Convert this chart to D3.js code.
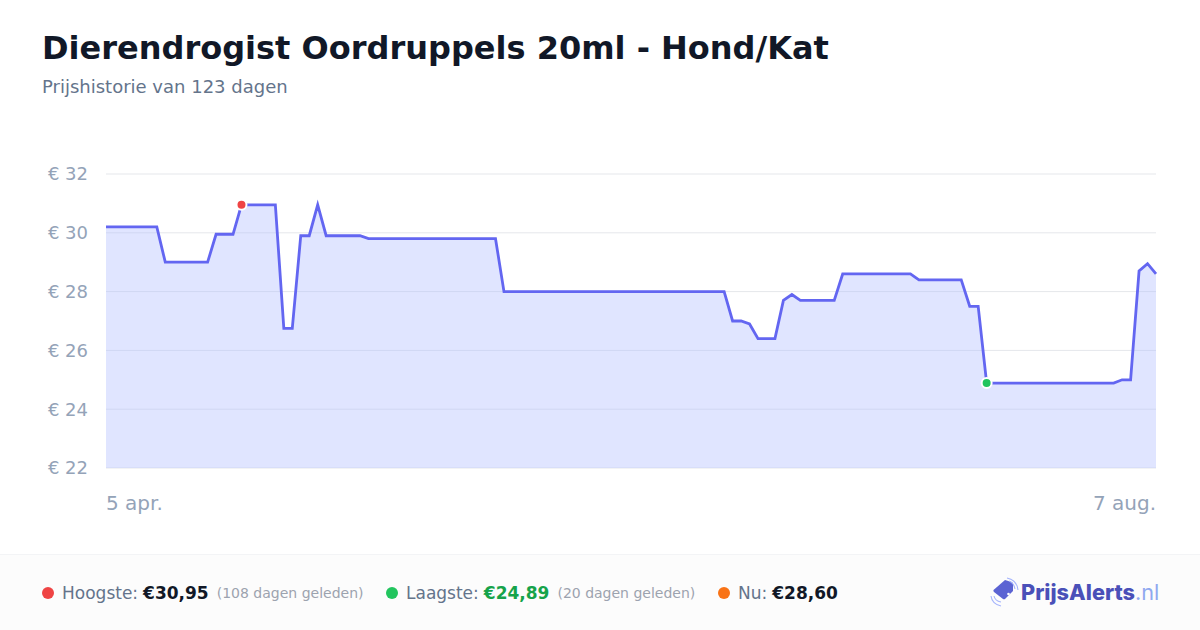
<!DOCTYPE html>
<html lang="nl">
<head>
    <meta charset="UTF-8">
    <title>Prijshistorie</title>
    <script src="https://d3js.org/d3.v7.min.js"></script>
    <style>
        html, body { margin: 0; padding: 0; background: #fff; }
        svg { display: block; font-family: "DejaVu Sans", sans-serif; }
    </style>
</head>
<body>
<svg id="chart" width="1200" height="630"></svg>
<script>
    const titleText = "Dierendrogist Oordruppels 20ml - Hond/Kat";
    const subtitleText = "Prijshistorie van 123 dagen";

    const startDate = new Date(2025, 3, 5);
    // one price per day, 5 apr. - 7 aug.
    const prices = [
        30.2, 30.2, 30.2, 30.2, 30.2, 30.2, 30.2,
        29.0, 29.0, 29.0, 29.0, 29.0, 29.0,
        29.95, 29.95, 29.95,
        30.95, 30.95, 30.95, 30.95, 30.95,
        26.75, 26.75,
        29.9, 29.9,
        30.95,
        29.9, 29.9, 29.9, 29.9, 29.9,
        29.8, 29.8, 29.8, 29.8, 29.8, 29.8, 29.8, 29.8, 29.8, 29.8, 29.8, 29.8, 29.8, 29.8, 29.8, 29.8,
        28.0, 28.0, 28.0, 28.0, 28.0, 28.0, 28.0, 28.0, 28.0, 28.0, 28.0, 28.0, 28.0, 28.0, 28.0, 28.0, 28.0, 28.0, 28.0, 28.0, 28.0, 28.0, 28.0, 28.0, 28.0, 28.0, 28.0,
        27.0, 27.0, 26.9,
        26.4, 26.4, 26.4,
        27.7, 27.9,
        27.7, 27.7, 27.7, 27.7, 27.7,
        28.6, 28.6, 28.6, 28.6, 28.6, 28.6, 28.6, 28.6, 28.6,
        28.4, 28.4, 28.4, 28.4, 28.4, 28.4,
        27.5, 27.5,
        24.89, 24.89, 24.89, 24.89, 24.89, 24.89, 24.89, 24.89, 24.89, 24.89, 24.89, 24.89, 24.89, 24.89, 24.89, 24.89,
        25.0, 25.0,
        28.7, 28.95, 28.6
    ];
    const yTicks = [22, 24, 26, 28, 30, 32];
    const xLabels = ["5 apr.", "7 aug."];

    const highIndex = 16;
    const lowIndex = 104;

    const legendLabels = ["Hoogste:", "Laagste:", "Nu:"];
    const legendValues = ["€30,95", "€24,89", "€28,60"];
    const legendNotes = ["(108 dagen geleden)", "(20 dagen geleden)", ""];
    const legendDots = ["#ef4444", "#22c55e", "#f97316"];
    const legendValueColors = ["#111827", "#16a34a", "#111827"];

    const svg = d3.select("#chart");
    const dates = prices.map((p, i) => d3.timeDay.offset(startDate, i));

    const x = d3.scaleTime().domain(d3.extent(dates)).range([106, 1156]);
    const y = d3.scaleLinear().domain([22, 32]).range([468, 174]);

    svg.append("text").attr("x", 42).attr("y", 59)
        .attr("font-size", 32).attr("font-weight", 700).attr("fill", "#111827")
        .text(titleText);
    svg.append("text").attr("x", 42).attr("y", 93)
        .attr("font-size", 18).attr("fill", "#64748b")
        .text(subtitleText);

    // gridlines + y labels, -0.5 cancels the half pixel d3 adds to ticks
    const yAxis = svg.append("g")
        .attr("transform", "translate(106,-0.5)")
        .call(d3.axisLeft(y).tickValues(yTicks).tickSize(-1050).tickFormat(d => "€ " + d));
    yAxis.select(".domain").remove();
    yAxis.selectAll("line").attr("stroke", "#e5e7eb").attr("stroke-width", 1);
    yAxis.selectAll("text")
        .attr("x", -18).attr("dy", "0.35em")
        .attr("font-size", 18).attr("font-family", "DejaVu Sans").attr("fill", "#94a3b8");

    const area = d3.area().x((d, i) => x(dates[i])).y0(y(22)).y1(d => y(d));
    const line = d3.line().x((d, i) => x(dates[i])).y(d => y(d));

    svg.append("path").datum(prices).attr("d", area)
        .attr("fill", "#b2beff").attr("fill-opacity", 0.4);
    svg.append("path").datum(prices).attr("d", line)
        .attr("fill", "none").attr("stroke", "#6366f1").attr("stroke-width", 2.8)
        .attr("stroke-linejoin", "miter");

    // x labels, only first and last day
    svg.selectAll(".xlabel")
        .data(xLabels)
        .enter()
        .append("text")
        .attr("class", "xlabel")
        .attr("x", (d, i) => x(i === 0 ? dates[0] : dates[dates.length - 1]))
        .attr("y", 510)
        .attr("text-anchor", (d, i) => i === 0 ? "start" : "end")
        .attr("font-size", 20).attr("fill", "#94a3b8")
        .text(d => d);

    // high and low markers
    svg.selectAll(".marker")
        .data([[highIndex, legendDots[0]], [lowIndex, legendDots[1]]])
        .enter()
        .append("circle")
        .attr("class", "marker")
        .attr("cx", d => x(dates[d[0]]))
        .attr("cy", d => y(prices[d[0]]))
        .attr("r", 5)
        .attr("fill", d => d[1])
        .attr("stroke", "#fff").attr("stroke-width", 2);

    // footer
    svg.append("rect").attr("x", 0).attr("y", 554).attr("width", 1200).attr("height", 76).attr("fill", "#fcfcfc");
    svg.append("line").attr("x1", 0).attr("x2", 1200).attr("y1", 554.5).attr("y2", 554.5).attr("stroke", "#f3f4f6");

    const legendX = [42, 386, 718];
    const legend = svg.selectAll(".legend")
        .data(legendLabels)
        .enter()
        .append("g")
        .attr("class", "legend")
        .attr("transform", (d, i) => `translate(${legendX[i]},0)`);
    legend.append("circle").attr("cx", 6).attr("cy", 593).attr("r", 6)
        .attr("fill", (d, i) => legendDots[i]);
    legend.each(function (d, i) {
        const g = d3.select(this);
        const label = g.append("text").attr("x", 20).attr("y", 599)
            .attr("font-size", 17).attr("fill", "#64748b").text(d);
        const labelEnd = 20 + label.node().getComputedTextLength() + 5;
        const value = g.append("text").attr("x", labelEnd).attr("y", 599)
            .attr("font-size", 17).attr("font-weight", 700).attr("fill", legendValueColors[i]).text(legendValues[i]);
        g.append("text").attr("x", labelEnd + value.node().getComputedTextLength() + 8).attr("y", 598)
            .attr("font-size", 14).attr("fill", "#9ca3af").text(legendNotes[i]);
    });

    // logo
    const logo = svg.append("g").attr("transform", "translate(990,578)");
    logo.append("path")
        .attr("d", "M15 2 L3.5 12 Q3 13 4 14 L13 21 Q14 21.5 15 21 L23 13 L23 6 Q23 4.5 21.5 4 Z")
        .attr("fill", "#5b63d3");
    logo.append("circle").attr("cx", 18.5).attr("cy", 16).attr("r", 1.3).attr("fill", "#fff");
    logo.append("path").attr("d", "M17 0 Q27 2 28 12 M19 3 Q24 5 25 11")
        .attr("fill", "none").attr("stroke", "#a5b4fc").attr("stroke-width", 1.1);
    logo.append("path").attr("d", "M1 18 Q2 26 11 28 M4 18 Q5 23 11 24")
        .attr("fill", "none").attr("stroke", "#a5b4fc").attr("stroke-width", 1.1);
    const logoText = svg.append("text").attr("x", 1021).attr("y", 600)
        .attr("font-family", "Inter").attr("font-size", 21.7);
    logoText.append("tspan").attr("font-weight", 800).attr("fill", "#4a50b8").text("PrijsAlerts");
    logoText.append("tspan").attr("font-weight", 400).attr("fill", "#8fa8f0").text(".nl");
</script>
</body>
</html>
